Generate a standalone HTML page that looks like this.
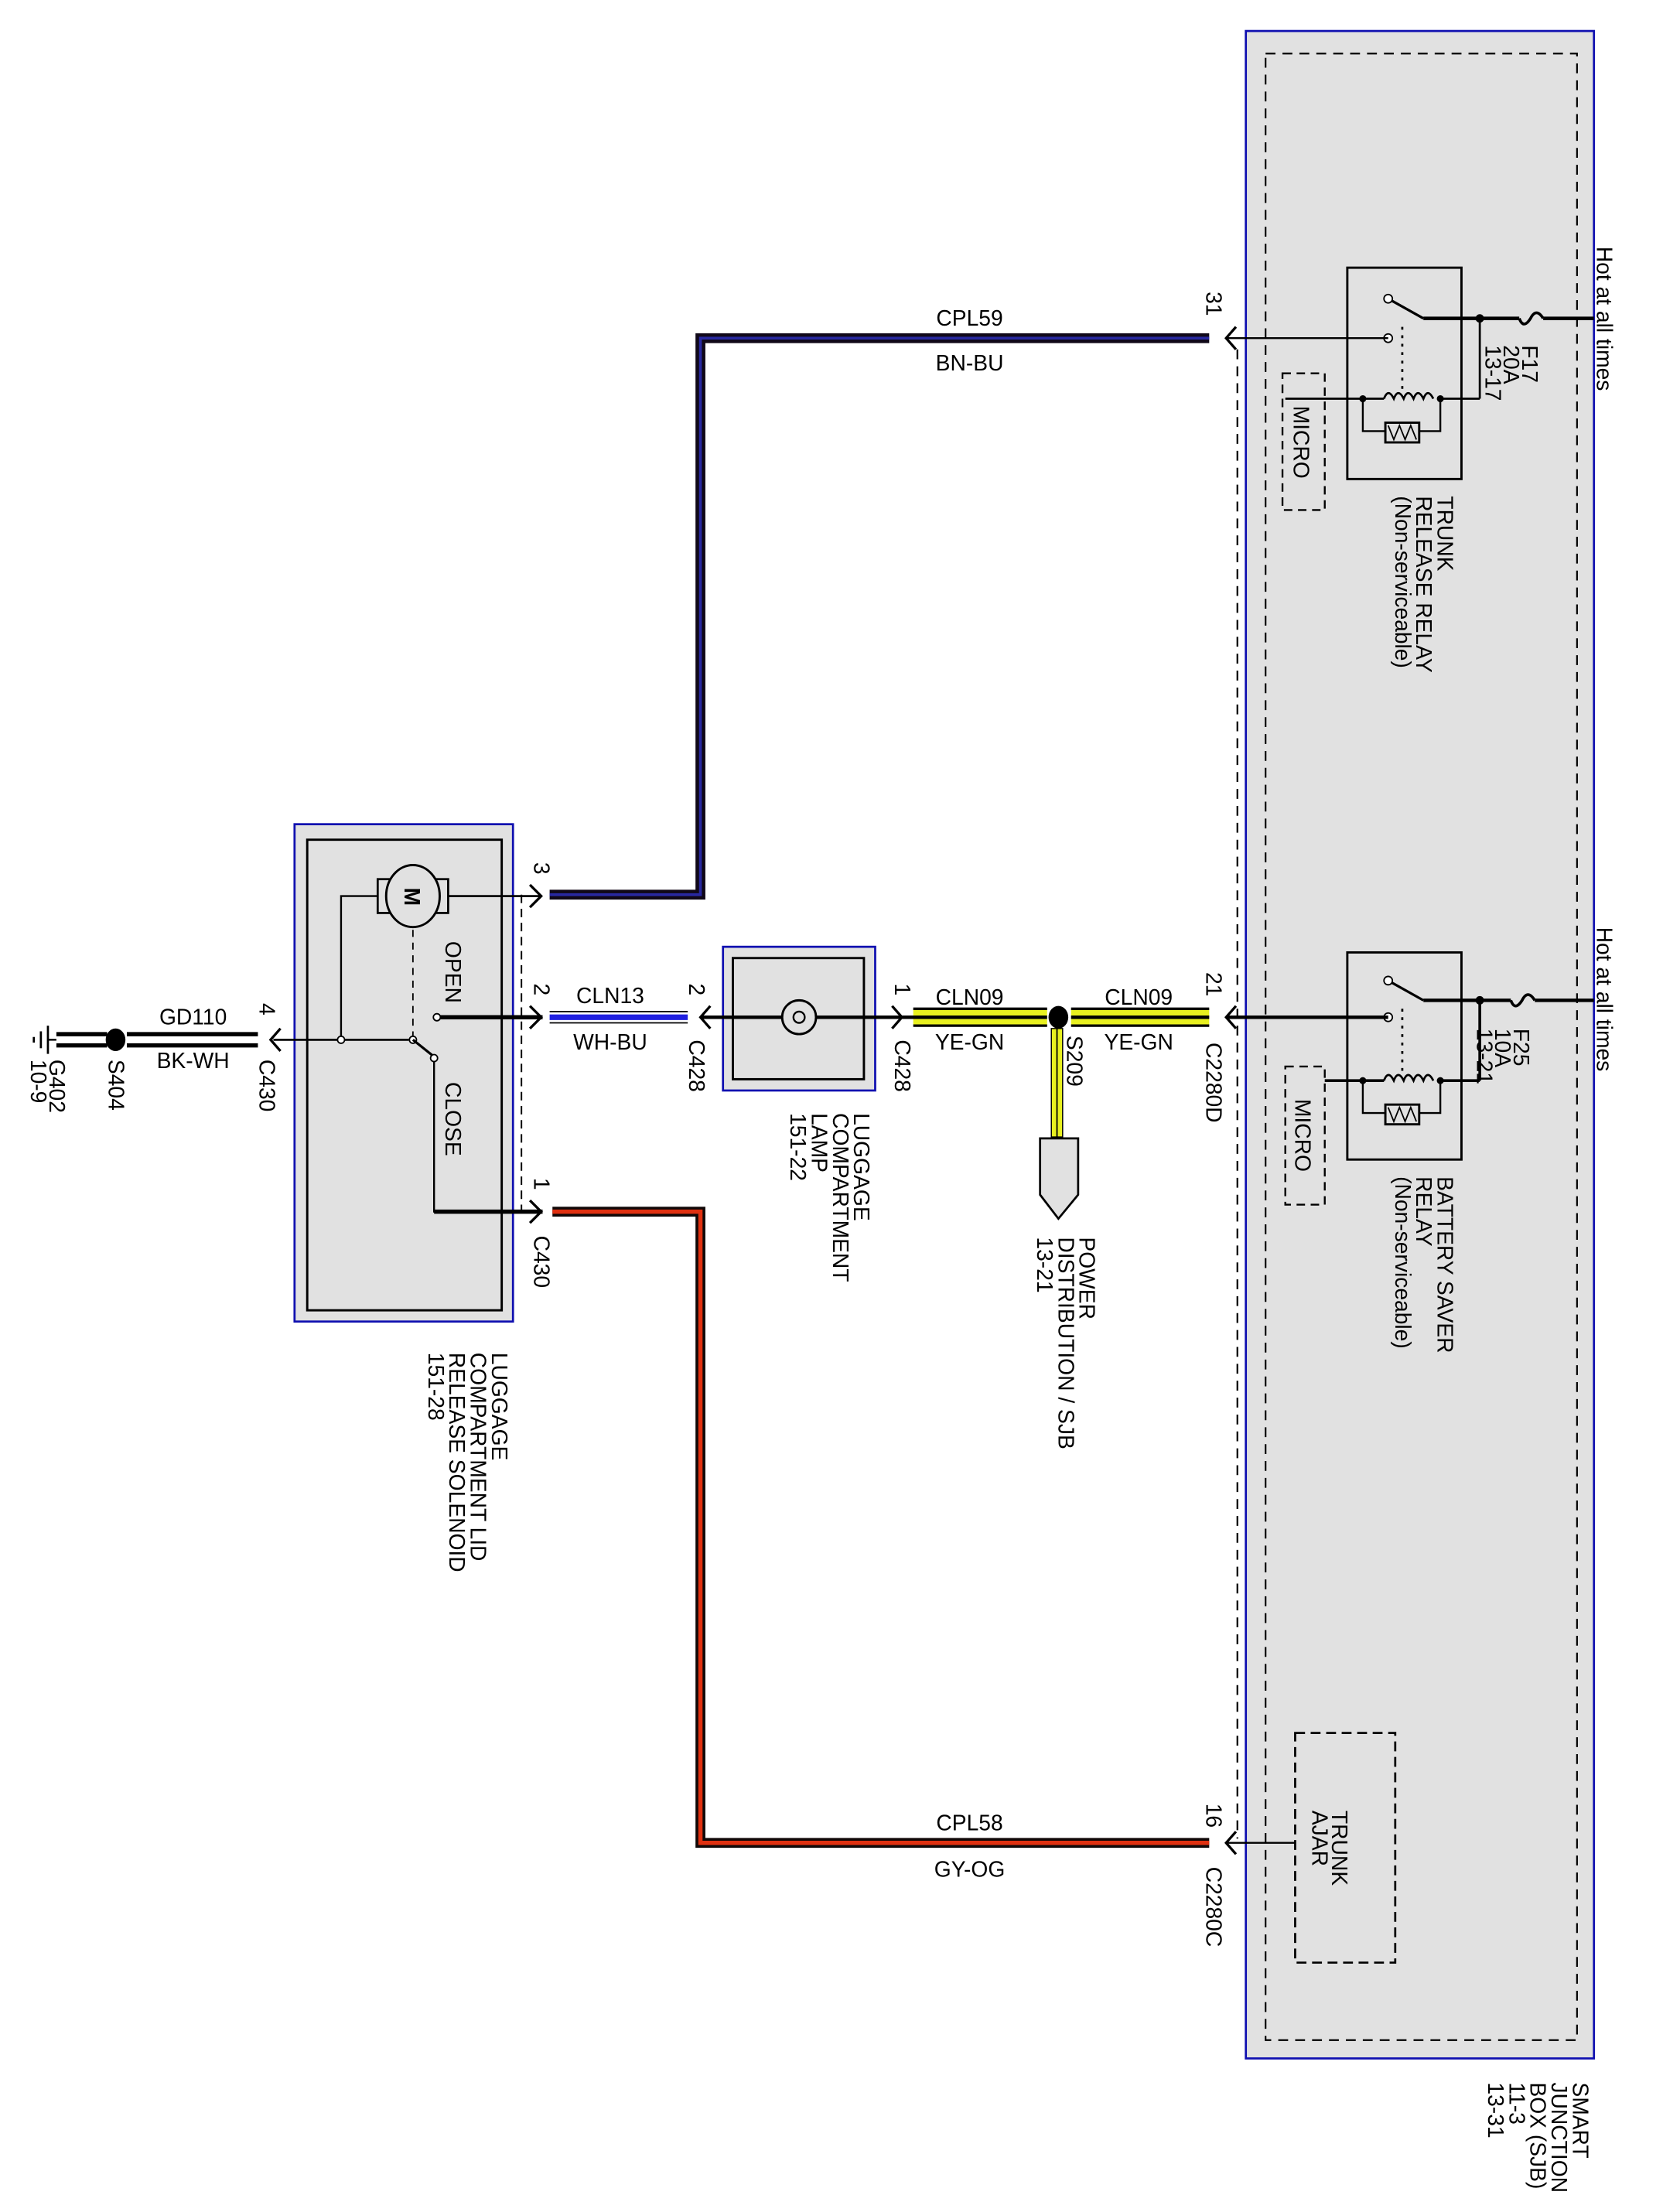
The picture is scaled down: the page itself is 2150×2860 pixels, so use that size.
<!DOCTYPE html>
<html><head><meta charset="utf-8"><style>
html,body{margin:0;padding:0;background:#fff}
svg{display:block}
text{font-family:"Liberation Sans",sans-serif;font-size:15.5px;fill:#000}
</style></head><body>
<svg width="2150" height="2860" viewBox="0 0 1180 1570" preserveAspectRatio="none" xmlns="http://www.w3.org/2000/svg">
<!-- SJB -->
<rect x="884" y="22" width="247" height="1439" fill="#e1e1e1" stroke="#1010b0" stroke-width="1.5"/>
<rect x="898" y="38" width="221" height="1410" fill="none" stroke="#000" stroke-width="1.2" stroke-dasharray="7,5"/>
<line x1="878" y1="248" x2="878" y2="1305" stroke="#000" stroke-width="1.2" stroke-dasharray="7,5"/>
<g transform="translate(1116,1478) rotate(90)"><text x="0" y="0">SMART</text><text x="0" y="15">JUNCTION</text><text x="0" y="30">BOX (SJB)</text><text x="0" y="45">11-3</text><text x="0" y="60">13-31</text></g>

<!-- Trunk release relay -->
<rect x="956" y="190" width="81" height="150" fill="none" stroke="#000" stroke-width="1.6"/>
<line x1="1010" y1="226" x2="1078" y2="226" stroke="#000" stroke-width="2.5"/>
<path d="M1078 226 q3 8 8 0 q4 -8 9 0" fill="none" stroke="#000" stroke-width="2"/>
<line x1="1095" y1="226" x2="1131" y2="226" stroke="#000" stroke-width="2.5"/>
<circle cx="1050" cy="226" r="3"/>
<line x1="1050" y1="226" x2="1050" y2="283" stroke="#000" stroke-width="1.5"/>
<line x1="985" y1="212" x2="1010" y2="226" stroke="#000" stroke-width="1.8"/>
<circle cx="985" cy="212" r="3" fill="#fff" stroke="#000"/>
<circle cx="985" cy="240" r="3" fill="#fff" stroke="#000"/>
<line x1="995" y1="232" x2="995" y2="276" stroke="#000" stroke-width="1.5" stroke-dasharray="2,4"/>
<line x1="912" y1="283" x2="982" y2="283" stroke="#000" stroke-width="1.5"/>
<line x1="1022" y1="283" x2="1050" y2="283" stroke="#000" stroke-width="1.5"/>
<path d="M982 283 q3 -8 7 0 q3 -8 7 0 q3 -8 7 0 q3 -8 7 0 q3 -8 7 0" fill="none" stroke="#000" stroke-width="1.5"/>
<circle cx="967" cy="283" r="2.5"/><circle cx="1022" cy="283" r="2.5"/>
<path d="M967 283 V306 H983 M1022 283 V306 H1007" fill="none" stroke="#000" stroke-width="1.3"/>
<rect x="983" y="300" width="24" height="14" fill="none" stroke="#000" stroke-width="1.6"/>
<path d="M985 302 l4 10 l4 -10 l4 10 l4 -10 l4 10" fill="none" stroke="#000" stroke-width="1"/>
<line x1="870" y1="240" x2="985" y2="240" stroke="#000" stroke-width="1.3"/>
<rect x="910" y="265" width="30" height="97" fill="none" stroke="#000" stroke-width="1.3" stroke-dasharray="6,4"/>
<g transform="translate(918,288) rotate(90)"><text>MICRO</text></g>
<g transform="translate(1133,175) rotate(90)"><text>Hot at all times</text></g>
<g transform="translate(1080,245) rotate(90)"><text x="0" y="0">F17</text><text x="0" y="13">20A</text><text x="0" y="26">13-17</text></g>
<g transform="translate(1020,352) rotate(90)"><text x="0" y="0">TRUNK</text><text x="0" y="15">RELEASE RELAY</text><text x="0" y="30">(Non-serviceable)</text></g>

<!-- Battery saver relay -->
<rect x="956" y="676" width="81" height="147" fill="none" stroke="#000" stroke-width="1.6"/>
<line x1="1010" y1="710" x2="1072" y2="710" stroke="#000" stroke-width="2.5"/>
<path d="M1072 710 q3 8 8 0 q4 -8 9 0" fill="none" stroke="#000" stroke-width="2"/>
<line x1="1089" y1="710" x2="1131" y2="710" stroke="#000" stroke-width="2.5"/>
<circle cx="1050" cy="710" r="3"/>
<line x1="1050" y1="710" x2="1050" y2="767" stroke="#000" stroke-width="2"/>
<line x1="985" y1="696" x2="1010" y2="710" stroke="#000" stroke-width="1.8"/>
<circle cx="985" cy="696" r="3" fill="#fff" stroke="#000"/>
<circle cx="985" cy="722" r="3" fill="#fff" stroke="#000"/>
<line x1="995" y1="716" x2="995" y2="760" stroke="#000" stroke-width="1.5" stroke-dasharray="2,4"/>
<line x1="940" y1="767" x2="982" y2="767" stroke="#000" stroke-width="2"/>
<line x1="1022" y1="767" x2="1050" y2="767" stroke="#000" stroke-width="2"/>
<path d="M982 767 q3 -8 7 0 q3 -8 7 0 q3 -8 7 0 q3 -8 7 0 q3 -8 7 0" fill="none" stroke="#000" stroke-width="1.5"/>
<circle cx="967" cy="767" r="2.5"/><circle cx="1022" cy="767" r="2.5"/>
<path d="M967 767 V790 H983 M1022 767 V790 H1007" fill="none" stroke="#000" stroke-width="1.3"/>
<rect x="983" y="784" width="24" height="14" fill="none" stroke="#000" stroke-width="1.6"/>
<path d="M985 786 l4 10 l4 -10 l4 10 l4 -10 l4 10" fill="none" stroke="#000" stroke-width="1"/>
<line x1="870" y1="722" x2="985" y2="722" stroke="#000" stroke-width="2.5"/>
<rect x="912" y="757" width="28" height="98" fill="none" stroke="#000" stroke-width="1.3" stroke-dasharray="6,4"/>
<g transform="translate(919,780) rotate(90)"><text>MICRO</text></g>
<g transform="translate(1133,658) rotate(90)"><text>Hot at all times</text></g>
<g transform="translate(1074,730) rotate(90)"><text x="0" y="0">F25</text><text x="0" y="13">10A</text><text x="0" y="26">13-21</text></g>
<g transform="translate(1020,835) rotate(90)"><text x="0" y="0">BATTERY SAVER</text><text x="0" y="15">RELAY</text><text x="0" y="30">(Non-serviceable)</text></g>

<!-- Trunk ajar -->
<rect x="919" y="1230" width="71" height="163" fill="none" stroke="#000" stroke-width="1.5" stroke-dasharray="7,4"/>
<line x1="870" y1="1308" x2="919" y2="1308" stroke="#000" stroke-width="1.3"/>
<g transform="translate(945,1285) rotate(90)"><text x="0" y="0">TRUNK</text><text x="0" y="14">AJAR</text></g>

<!-- connector arrows at SJB -->
<g fill="none" stroke="#000" stroke-width="1.8">
<path d="M877 232 L870 240 L877 248"/><path d="M877 714 L870 722 L877 730"/><path d="M877 1300 L870 1308 L877 1316"/>
</g>
<g transform="translate(856,207) rotate(90)"><text>31</text></g>
<g transform="translate(856,690) rotate(90)"><text>21</text></g>
<g transform="translate(856,1280) rotate(90)"><text>16</text></g>
<g transform="translate(856,740) rotate(90)"><text>C2280D</text></g>
<g transform="translate(856,1325) rotate(90)"><text>C2280C</text></g>

<!-- CPL59 BN-BU -->
<path d="M858 240 H497 V635 H390" fill="none" stroke="#100818" stroke-width="7"/>
<path d="M858 240 H497 V635 H390" fill="none" stroke="#2828a0" stroke-width="2"/>
<text x="688" y="231" text-anchor="middle">CPL59</text>
<text x="688" y="263" text-anchor="middle">BN-BU</text>

<!-- CPL58 GY-OG -->
<path d="M858 1308 H497 V860 H392" fill="none" stroke="#100808" stroke-width="7"/>
<path d="M858 1308 H497 V860 H392" fill="none" stroke="#e03010" stroke-width="3"/>
<text x="688" y="1299" text-anchor="middle">CPL58</text>
<text x="688" y="1332" text-anchor="middle">GY-OG</text>

<!-- CLN09 -->
<rect x="760" y="716" width="98" height="12" fill="#e8f020"/>
<line x1="760" y1="716" x2="858" y2="716" stroke="#000" stroke-width="1.8"/>
<line x1="760" y1="728" x2="858" y2="728" stroke="#000" stroke-width="1.8"/>
<line x1="760" y1="722" x2="858" y2="722" stroke="#000" stroke-width="2.5"/>
<rect x="648" y="716" width="95" height="12" fill="#e8f020"/>
<line x1="648" y1="716" x2="743" y2="716" stroke="#000" stroke-width="1.8"/>
<line x1="648" y1="728" x2="743" y2="728" stroke="#000" stroke-width="1.8"/>
<line x1="640" y1="722" x2="743" y2="722" stroke="#000" stroke-width="2.5"/>
<ellipse cx="751" cy="722" rx="7" ry="8"/>
<rect x="746" y="730" width="8" height="77" fill="#e8f020" stroke="#000" stroke-width="0.8"/>
<line x1="750" y1="730" x2="750" y2="807" stroke="#000" stroke-width="1"/>
<path d="M738 808 H765 V848 L751 865 L738 848 Z" fill="#e1e1e1" stroke="#000" stroke-width="1.5"/>
<text x="808" y="713" text-anchor="middle">CLN09</text>
<text x="808" y="745" text-anchor="middle">YE-GN</text>
<text x="688" y="713" text-anchor="middle">CLN09</text>
<text x="688" y="745" text-anchor="middle">YE-GN</text>
<g transform="translate(757,735) rotate(90)"><text>S209</text></g>
<g transform="translate(766,878) rotate(90)"><text x="0" y="0">POWER</text><text x="0" y="15">DISTRIBUTION / SJB</text><text x="0" y="30">13-21</text></g>

<!-- Lamp -->
<rect x="513" y="672" width="108" height="102" fill="#e1e1e1" stroke="#1010b0" stroke-width="1.5"/>
<rect x="520" y="680" width="93" height="86" fill="none" stroke="#000" stroke-width="1.6"/>
<line x1="497" y1="722" x2="640" y2="722" stroke="#000" stroke-width="2.5"/>
<circle cx="567" cy="722" r="12" fill="#e1e1e1" stroke="#000" stroke-width="1.6"/>
<circle cx="567" cy="722" r="4" fill="none" stroke="#000" stroke-width="1.3"/>
<g fill="none" stroke="#000" stroke-width="1.8">
<path d="M633 714 L640 722 L633 730"/><path d="M504 714 L497 722 L504 730"/>
</g>
<g transform="translate(635,698) rotate(90)"><text>1</text></g>
<g transform="translate(635,738) rotate(90)"><text>C428</text></g>
<g transform="translate(489,698) rotate(90)"><text>2</text></g>
<g transform="translate(489,738) rotate(90)"><text>C428</text></g>
<g transform="translate(606,790) rotate(90)"><text x="0" y="0">LUGGAGE</text><text x="0" y="15">COMPARTMENT</text><text x="0" y="30">LAMP</text><text x="0" y="45">151-22</text></g>

<!-- CLN13 -->
<line x1="390" y1="718" x2="488" y2="718" stroke="#000" stroke-width="1"/>
<line x1="390" y1="726" x2="488" y2="726" stroke="#000" stroke-width="1"/>
<line x1="390" y1="722" x2="488" y2="722" stroke="#2020e0" stroke-width="4"/>
<text x="433" y="712" text-anchor="middle">CLN13</text>
<text x="433" y="745" text-anchor="middle">WH-BU</text>

<!-- Solenoid -->
<rect x="209" y="585" width="155" height="353" fill="#e1e1e1" stroke="#1010b0" stroke-width="1.5"/>
<rect x="218" y="596" width="138" height="334" fill="none" stroke="#000" stroke-width="1.6"/>
<line x1="370" y1="635" x2="370" y2="860" stroke="#000" stroke-width="1.1" stroke-dasharray="6,4"/>
<rect x="268" y="624" width="50" height="24" fill="#e1e1e1" stroke="#000" stroke-width="1.5"/>
<ellipse cx="293" cy="636" rx="19" ry="22" fill="#e1e1e1" stroke="#000" stroke-width="1.6"/>
<g transform="translate(287,630) rotate(90)"><text font-weight="bold" font-size="13">M</text></g>
<line x1="318" y1="636" x2="383" y2="636" stroke="#000" stroke-width="1.5"/>
<path d="M268 636 H242 V738" fill="none" stroke="#000" stroke-width="1.3"/>
<line x1="293" y1="660" x2="293" y2="738" stroke="#000" stroke-width="1" stroke-dasharray="5,4"/>
<line x1="194" y1="738" x2="290" y2="738" stroke="#000" stroke-width="1.5"/>
<circle cx="242" cy="738" r="2.5" fill="#fff" stroke="#000"/>
<circle cx="293" cy="738" r="2.5" fill="#fff" stroke="#000"/>
<line x1="293" y1="738" x2="308" y2="750" stroke="#000" stroke-width="1.8"/>
<circle cx="308" cy="751" r="2.5" fill="#fff" stroke="#000"/>
<path d="M308 753 V860 H385" fill="none" stroke="#000" stroke-width="1.3"/>
<line x1="308" y1="860" x2="385" y2="860" stroke="#000" stroke-width="3"/>
<circle cx="310" cy="722" r="2.5" fill="#fff" stroke="#000"/>
<line x1="312" y1="722" x2="385" y2="722" stroke="#000" stroke-width="3"/>
<g fill="none" stroke="#000" stroke-width="1.8">
<path d="M376 628 L384 636 L376 644"/><path d="M376 714 L384 722 L376 730"/><path d="M376 852 L384 860 L376 868"/><path d="M199 730 L192 738 L199 746"/>
</g>
<g transform="translate(316,668) rotate(90)"><text>OPEN</text></g>
<g transform="translate(316,768) rotate(90)"><text>CLOSE</text></g>
<g transform="translate(379,612) rotate(90)"><text>3</text></g>
<g transform="translate(379,698) rotate(90)"><text>2</text></g>
<g transform="translate(379,836) rotate(90)"><text>1</text></g>
<g transform="translate(379,877) rotate(90)"><text>C430</text></g>
<g transform="translate(184,712) rotate(90)"><text>4</text></g>
<g transform="translate(184,752) rotate(90)"><text>C430</text></g>
<g transform="translate(349,960) rotate(90)"><text x="0" y="0">LUGGAGE</text><text x="0" y="15">COMPARTMENT LID</text><text x="0" y="30">RELEASE SOLENOID</text><text x="0" y="45">151-28</text></g>

<!-- Ground -->
<line x1="90" y1="734" x2="183" y2="734" stroke="#000" stroke-width="3"/>
<line x1="90" y1="742" x2="183" y2="742" stroke="#000" stroke-width="3"/>
<line x1="40" y1="734" x2="76" y2="734" stroke="#000" stroke-width="3"/>
<line x1="40" y1="742" x2="76" y2="742" stroke="#000" stroke-width="3"/>
<ellipse cx="82" cy="738" rx="7" ry="8"/>
<line x1="34" y1="738" x2="40" y2="738" stroke="#000" stroke-width="1.3"/>
<line x1="34" y1="728" x2="34" y2="748" stroke="#000" stroke-width="1.5"/>
<line x1="29" y1="732" x2="29" y2="744" stroke="#000" stroke-width="1.5"/>
<line x1="24" y1="736" x2="24" y2="740" stroke="#000" stroke-width="1.5"/>
<text x="137" y="727" text-anchor="middle">GD110</text>
<text x="137" y="758" text-anchor="middle">BK-WH</text>
<g transform="translate(77,752) rotate(90)"><text>S404</text></g>
<g transform="translate(35,752) rotate(90)"><text x="0" y="0">G402</text><text x="0" y="13">10-9</text></g>
</svg>
</body></html>
